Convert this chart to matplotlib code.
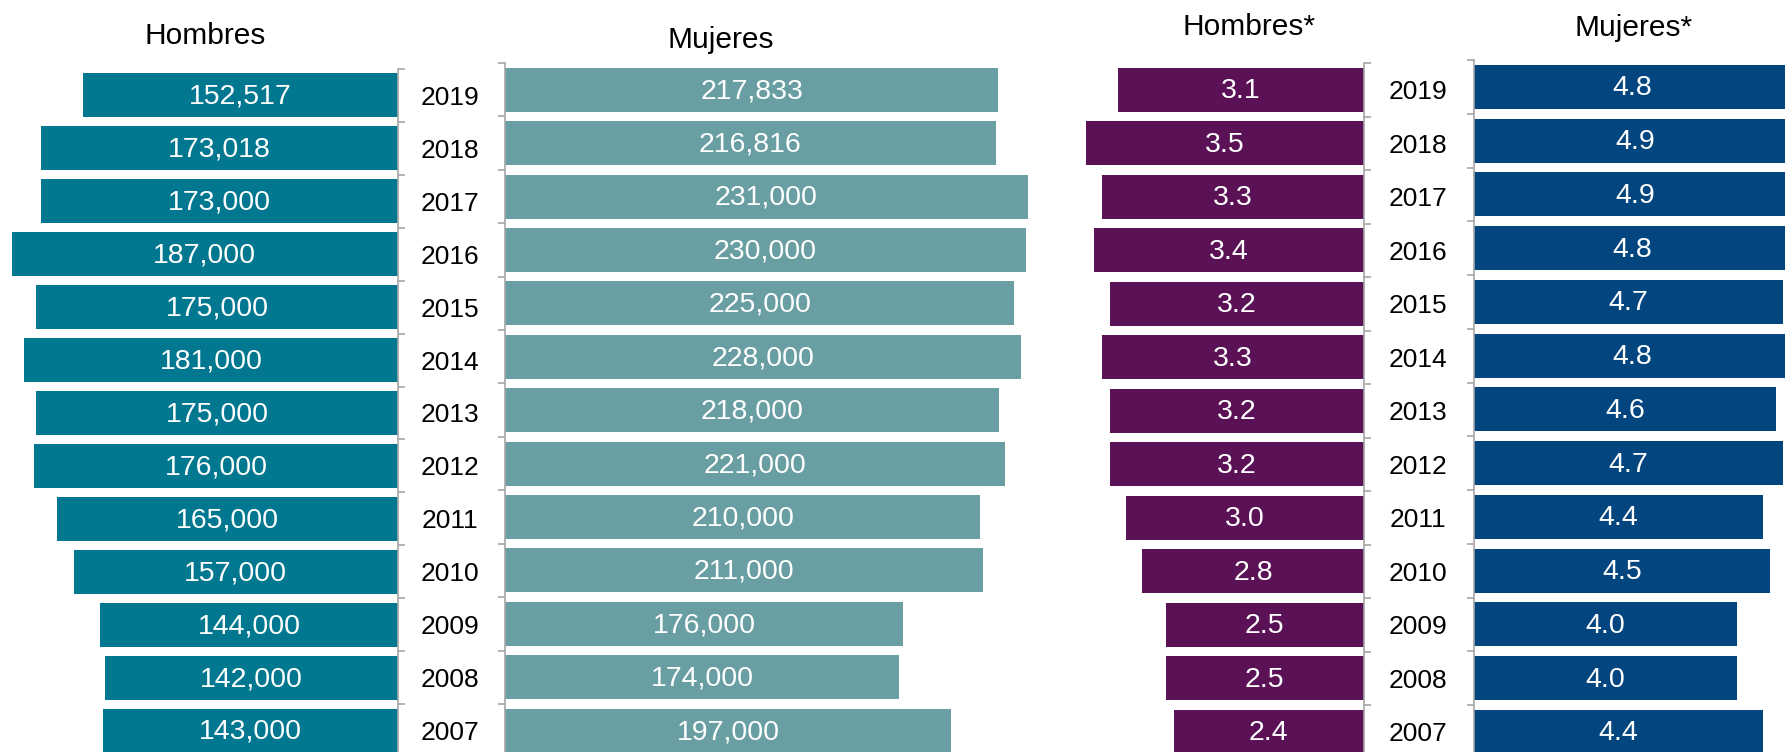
import matplotlib
matplotlib.use("Agg")
import matplotlib.pyplot as plt
import matplotlib.transforms as mtransforms

plt.rcParams['font.family'] = ['Liberation Sans', 'DejaVu Sans']

years = [2019, 2018, 2017, 2016, 2015, 2014, 2013, 2012, 2011, 2010, 2009, 2008, 2007]
hombres = [152517, 173018, 173000, 187000, 175000, 181000, 175000, 176000, 165000, 157000, 144000, 142000, 143000]
mujeres = [217833, 216816, 231000, 230000, 225000, 228000, 218000, 221000, 210000, 211000, 176000, 174000, 197000]
hombres_pct = [3.1, 3.5, 3.3, 3.4, 3.2, 3.3, 3.2, 3.2, 3.0, 2.8, 2.5, 2.5, 2.4]
mujeres_pct = [4.8, 4.9, 4.9, 4.8, 4.7, 4.8, 4.6, 4.7, 4.4, 4.5, 4.0, 4.0, 4.4]
titles = ["Hombres", "Mujeres", "Hombres*", "Mujeres*"]

W, H = 1785, 752
fig = plt.figure(figsize=(W / 100, H / 100), dpi=100)


def add_ax(x0, x1, ytop, ybot):
    return fig.add_axes([x0 / W, 1 - ybot / H, (x1 - x0) / W, (ybot - ytop) / H])


n = len(years)
pos = list(range(n))
grey = '#A6A6A6'


def panel(ax, vals, labels, color, xlim, side, bh):
    ax.barh(pos, vals, height=bh, color=color, edgecolor='none')
    ax.set_xlim(*xlim)
    ax.set_ylim(n - 0.5, -0.5)
    for s in ax.spines.values():
        s.set_visible(False)
    sp = ax.spines[side]
    sp.set_visible(True)
    sp.set_color(grey)
    sp.set_linewidth(1.2)
    ax.set_xticks([])
    ax.set_yticks([i - 0.5 for i in range(n + 1)])
    ax.set_yticklabels([])
    if side == 'right':
        ax.yaxis.tick_right()
    ax.tick_params(axis='y', length=4.7, width=1.2, color=grey, direction='out')
    for p, v, lab in zip(pos, vals, labels):
        ax.text(v / 2, p - 0.03, lab, ha='center', va='center_baseline', color='white', fontsize=20.5)
    ax.patch.set_alpha(0)


# Panel 1: Hombres
ax1 = add_ax(0, 398, 69, 757)
panel(ax1, hombres, [f"{v:,}" for v in hombres], '#017890', (398 / 2.066 * 1000, 0), 'right', 0.83)
# Panel 2: Mujeres
ax2 = add_ax(505, 1050, 63, 757.4)
panel(ax2, mujeres, [f"{v:,}" for v in mujeres], '#699EA2', (0, 545 / 2.264 * 1000), 'left', 0.824)
# Panel 3: Hombres*
ax3 = add_ax(1060, 1364, 63, 758.5)
panel(ax3, hombres_pct, [f"{v:.1f}" for v in hombres_pct], '#5B1155', (304 / 79.3, 0), 'right', 0.824)
# Panel 4: Mujeres*
ax4 = add_ax(1474, 1800, 60, 758.75)
panel(ax4, mujeres_pct, [f"{v:.1f}" for v in mujeres_pct], '#03467F', (0, 326 / 65.75), 'left', 0.82)

# Year labels
for ax, xpix in [(ax1, 450), (ax3, 1418)]:
    tr = mtransforms.blended_transform_factory(fig.transFigure, ax.transData)
    for p, y in zip(pos, years):
        ax.text(xpix / W, p, str(y), transform=tr, ha='center', va='center_baseline',
                fontsize=19, color='black', clip_on=False)

# Titles
for t, (xp, yp) in zip(titles, [(205, 36), (721, 40), (1249, 27), (1634, 28)]):
    fig.text(xp / W, 1 - yp / H, t, ha='center', va='center', fontsize=21.5, color='black')

fig.savefig('out.png', dpi=100)
